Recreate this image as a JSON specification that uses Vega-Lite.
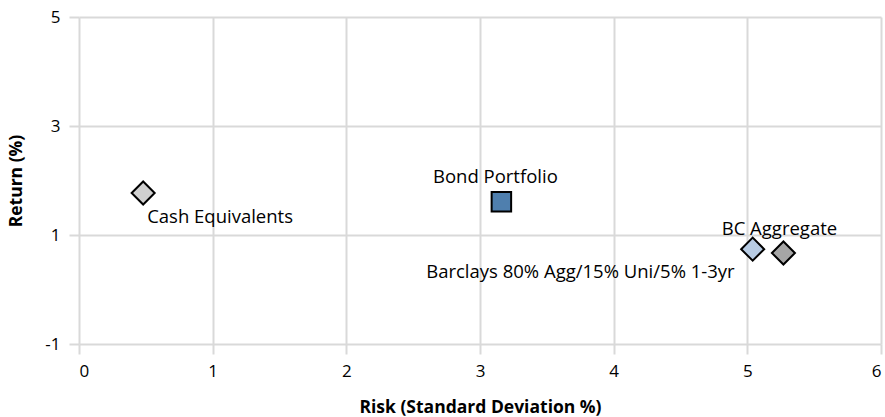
{
  "$schema": "https://vega.github.io/schema/vega-lite/v6.json",
  "width": 802,
  "height": 327,
  "autosize": {"type": "none"},
  "padding": {"left": 79, "top": 17, "right": 4, "bottom": 73},
  "background": "white",
  "config": {
    "view": {"stroke": null},
    "font": "Open Sans",
    "axis": {
      "gridColor": "#d9d9d9",
      "gridWidth": 2,
      "tickColor": "#d9d9d9",
      "tickWidth": 2,
      "tickSize": 10,
      "domain": false,
      "labelFont": "Open Sans",
      "labelFontSize": 17,
      "labelColor": "#000000",
      "labelExpr": "datum.value",
      "titleFont": "Open Sans",
      "titleFontSize": 17.5,
      "titleFontWeight": "bold",
      "titleColor": "#000000"
    }
  },
  "data": {
    "values": [
      {"name": "Cash Equivalents", "risk": 0.48, "ret": 1.77, "shape": "diamond", "color": "#d0d0d0"},
      {"name": "Bond Portfolio", "risk": 3.16, "ret": 1.61, "shape": "square", "color": "#4f7fae"},
      {"name": "Barclays 80% Agg/15% Uni/5% 1-3yr", "risk": 5.04, "ret": 0.74, "shape": "diamond", "color": "#b8cce4"},
      {"name": "BC Aggregate", "risk": 5.27, "ret": 0.67, "shape": "diamond", "color": "#a6a6a6"}
    ]
  },
  "encoding": {
    "x": {
      "field": "risk", "type": "quantitative",
      "scale": {"domain": [0, 6], "nice": false, "zero": false},
      "axis": {"values": [0, 1, 2, 3, 4, 5, 6], "title": "Risk (Standard Deviation %)", "labelPadding": 9, "titlePadding": 19}
    },
    "y": {
      "field": "ret", "type": "quantitative",
      "scale": {"domain": [-1, 5], "nice": false, "zero": false},
      "axis": {"values": [-1, 1, 3, 5], "title": "Return (%)", "labelPadding": 9, "titlePadding": 19}
    }
  },
  "layer": [
    {
      "mark": {"type": "point", "filled": true, "stroke": "#000000", "strokeWidth": 2, "opacity": 1},
      "encoding": {
        "shape": {"field": "shape", "type": "nominal", "scale": null},
        "fill": {"field": "color", "type": "nominal", "scale": null},
        "size": {"condition": {"test": "datum.shape === 'square'", "value": 380}, "value": 530}
      }
    },
    {
      "transform": [{"filter": "datum.name === 'Cash Equivalents'"}],
      "mark": {"type": "text", "align": "left", "baseline": "middle", "dx": 4, "dy": 24, "fontSize": 18.5, "color": "#000000"},
      "encoding": {"text": {"field": "name"}}
    },
    {
      "transform": [{"filter": "datum.name === 'Bond Portfolio'"}],
      "mark": {"type": "text", "align": "center", "baseline": "middle", "dx": -6, "dy": -25, "fontSize": 18.5, "color": "#000000"},
      "encoding": {"text": {"field": "name"}}
    },
    {
      "transform": [{"filter": "datum.name === 'BC Aggregate'"}],
      "mark": {"type": "text", "align": "center", "baseline": "middle", "dx": -4, "dy": -24, "fontSize": 18.5, "color": "#000000"},
      "encoding": {"text": {"field": "name"}}
    },
    {
      "transform": [{"filter": "datum.name === 'Barclays 80% Agg/15% Uni/5% 1-3yr'"}],
      "mark": {"type": "text", "align": "right", "baseline": "middle", "dx": -18, "dy": 23, "fontSize": 18.5, "color": "#000000"},
      "encoding": {"text": {"field": "name"}}
    }
  ]
}
